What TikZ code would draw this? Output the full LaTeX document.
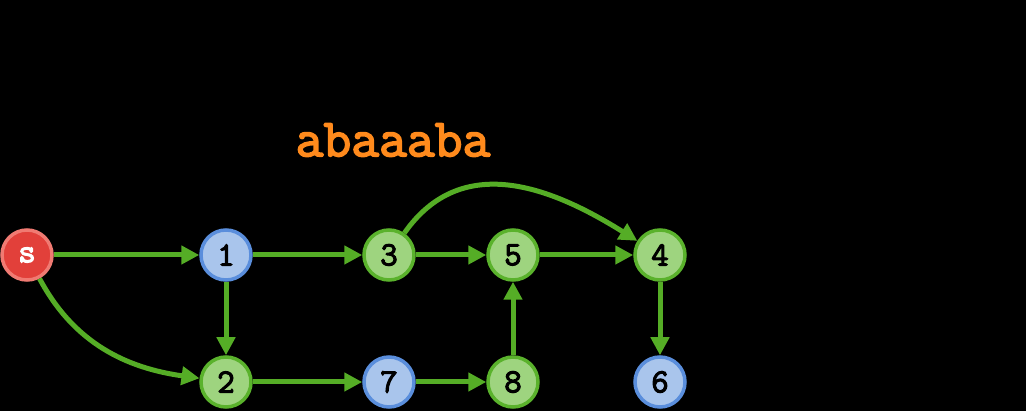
\documentclass[tikz,border=0pt]{standalone}
\usepackage{fontspec}
\setmonofont[AutoFakeBold=3]{Latin Modern Mono}
\usetikzlibrary{arrows.meta}
\definecolor{edgegreen}{HTML}{55AD26}
\definecolor{gfill}{HTML}{9ED47F}
\definecolor{gborder}{HTML}{5AB22C}
\definecolor{bfill}{HTML}{A9C5EC}
\definecolor{bborder}{HTML}{5A8EDC}
\definecolor{rfill}{HTML}{E2403A}
\definecolor{rborder}{HTML}{F07A72}
\definecolor{orangetxt}{HTML}{FF8A1C}
\tikzset{
  x=1pt,y=-1pt,
  vtx/.style={circle,minimum size=50pt,inner sep=0pt,line width=3.5pt,font=\ttfamily\bfseries\fontsize{34}{34}\selectfont},
  gv/.style={vtx,draw=gborder,fill=gfill,text=black},
  bv/.style={vtx,draw=bborder,fill=bfill,text=black},
  rv/.style={vtx,draw=rborder,fill=rfill,text=white},
  edge/.style={draw=edgegreen,line width=5pt,-{Triangle[length=18pt,width=18pt]}},
}
\begin{document}
\begin{tikzpicture}
\fill[black] (0,0) rectangle (1026,411);
\useasboundingbox (0,0) rectangle (1026,411);
\node[font=\ttfamily\bfseries\fontsize{54}{54}\selectfont,text=orangetxt] (w) at (393,140) {abaaaba};
\node[rv] (s) at (27,255) {s};
\node[bv] (n1) at (226,255) {1};
\node[gv] (n3) at (389,255) {3};
\node[gv] (n5) at (513,255) {5};
\node[gv] (n4) at (660,255) {4};
\node[gv] (n2) at (226,382) {2};
\node[bv] (n7) at (389,382) {7};
\node[gv] (n8) at (513,382) {8};
\node[bv] (n6) at (660,382) {6};
\draw[edge] (s) -- (n1);
\draw[edge] (s) to[out=-62,in=172] (n2);
\draw[edge] (n1) -- (n3);
\draw[edge] (n3) -- (n5);
\draw[edge] (n5) -- (n4);
\draw[edge] (n3) to[out=55,in=148,looseness=1.1] (n4);
\draw[edge] (n1) -- (n2);
\draw[edge] (n2) -- (n7);
\draw[edge] (n7) -- (n8);
\draw[edge] (n8) -- (n5);
\draw[edge] (n4) -- (n6);
\end{tikzpicture}
\end{document}
